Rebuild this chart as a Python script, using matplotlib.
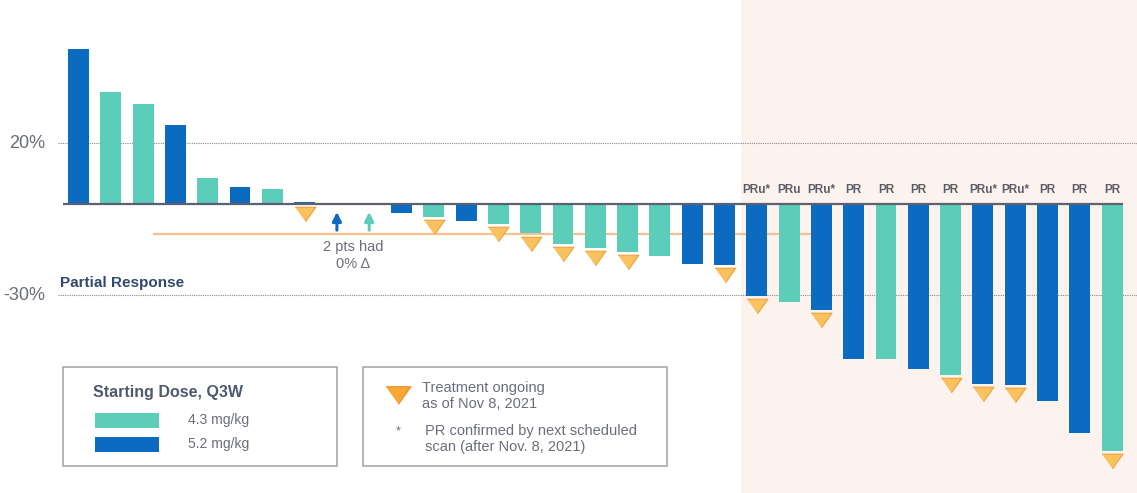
import matplotlib.pyplot as plt
from matplotlib.patches import Rectangle

plt.rcParams['font.family'] = ['Liberation Sans', 'DejaVu Sans']

W, H = 1137, 493

BLUE = '#0a6bc0'
TEAL = '#5ccdb9'
TRI_FILL = '#f9c25e'
TRI_EDGE = '#eea23c'
TEXT_GRAY = '#6a6e7a'
NAVY = '#2f4a6e'
PEACH = '#fdf3ee'

# best % change from baseline, one bar per patient
change = [51, 37, 33, 26, 8.6, 5.7, 4.9, 0.7, 0, 0, -3, -4.2, -5.5, -6.7,
          -9.7, -13.3, -14.6, -15.9, -17.1, -19.9, -20, -30.4, -32.4, -35,
          -51.1, -51.1, -54.2, -56.2, -59.1, -59.5, -64.8, -75.3, -81.1]
dose = ['5.2', '4.3', '4.3', '5.2', '4.3', '5.2', '4.3', '5.2', '5.2', '4.3',
        '5.2', '4.3', '5.2', '4.3', '4.3', '4.3', '4.3', '4.3', '4.3', '5.2',
        '5.2', '5.2', '4.3', '5.2', '5.2', '4.3', '5.2', '4.3', '5.2', '5.2',
        '5.2', '5.2', '4.3']
ongoing = [7, 11, 13, 14, 15, 16, 17, 20, 21, 23, 27, 28, 29, 32]
response = ['PRu*', 'PRu', 'PRu*', 'PR', 'PR', 'PR', 'PR', 'PRu*', 'PRu*',
            'PR', 'PR', 'PR']
first_resp = 21
zero_pts = [8, 9]
dose_colors = {'4.3': TEAL, '5.2': BLUE}

# pixel layout of the bar grid
X0, DX = 78.5, 32.3
Y0, DY = 204, 3.04

fig = plt.figure(figsize=(W / 100, H / 100), dpi=100)
ax = fig.add_axes([0, 0, 1, 1])
ax.set_xlim(-X0 / DX, (W - X0) / DX)
ax.set_ylim(-(H - Y0) / DY, Y0 / DY)
ax.axis('off')


def px(x):
    return (x - X0) / DX


def fx(x, y):
    return x / W, 1 - y / H


# responders region
ax.axvspan(first_resp - 0.5, ax.get_xlim()[1], color=PEACH, zorder=0, lw=0)

# reference lines
for lvl in (20, -30):
    ax.hlines(lvl, px(58), ax.get_xlim()[1], colors='#8a8a8a',
              linestyles=(0, (1, 1)), lw=0.8, zorder=1)
ax.text(px(45), 20, '20%', ha='right', va='center', fontsize=13,
        color=TEXT_GRAY)
ax.text(px(45), -30, '-30%', ha='right', va='center', fontsize=13,
        color=TEXT_GRAY)
ax.annotate('Partial Response', xy=(px(60), -30), xytext=(0, 4),
            textcoords='offset points', ha='left', va='bottom', fontsize=11,
            fontweight='bold', color=NAVY)

ax.hlines(-10, px(153), px(815), colors='#f7c08c', lw=1.6, zorder=2)

xs = list(range(len(change)))
ax.bar(xs, change, width=0.65, color=[dose_colors[d] for d in dose],
       zorder=3)
ax.hlines(0, px(63), px(1123), colors='#5d6070', lw=1.6, zorder=4)

tri = [(-1, 0.7), (1, 0.7), (0, -0.7)]
for i in ongoing:
    ax.plot(i, min(change[i], 0) - 3.3, marker=tri, ms=15, color=TRI_FILL,
            mec=TRI_EDGE, mew=0.8, zorder=5)

for k, lab in enumerate(response):
    ax.annotate(lab, xy=(first_resp + k, 0), xytext=(0, 6),
                textcoords='offset points', ha='center', va='bottom',
                fontsize=8.5, fontweight='bold', color='#5c5f6a')

# patients with no change
for i in zero_pts:
    ax.annotate('', xy=(i, -2.6), xytext=(i, -8.6),
                arrowprops=dict(arrowstyle='-|>', color=dose_colors[dose[i]],
                                lw=2.2, mutation_scale=13, shrinkA=0,
                                shrinkB=0))
ax.text(sum(zero_pts) / 2, -11.9, '2 pts had\n0% Δ', ha='center', va='top',
        fontsize=10.5, color=TEXT_GRAY, linespacing=1.3)

# legend boxes
for x1, x2 in ((63, 337), (363, 667)):
    fig.patches.append(Rectangle(fx(x1, 466), (x2 - x1) / W, 99 / H,
                                 transform=fig.transFigure, fill=False,
                                 ec='#a8a8a8', lw=1.2, zorder=6))

fig.text(*fx(93, 393), 'Starting Dose, Q3W', ha='left', va='center',
         fontsize=11.5, fontweight='bold', color='#4d5a6e')
for y, d in ((420, '4.3'), (444, '5.2')):
    fig.patches.append(Rectangle(fx(95, y + 8), 64 / W, 15 / H,
                                 transform=fig.transFigure,
                                 color=dose_colors[d], lw=0))
    fig.text(*fx(188, y), f'{d} mg/kg', ha='left', va='center',
             fontsize=10, color=TEXT_GRAY)

ax_leg = fig.add_axes([0, 0, 1, 1], facecolor='none')
ax_leg.set_xlim(0, W)
ax_leg.set_ylim(H, 0)
ax_leg.axis('off')
ax_leg.plot(398, 395, marker=tri, ms=18, color='#f7a733', mec='#ee8a22',
            mew=0.8)
fig.text(*fx(422, 396), 'Treatment ongoing\nas of Nov 8, 2021', ha='left',
         va='center', fontsize=10.5, color=TEXT_GRAY, linespacing=1.25)
fig.text(*fx(398, 431), '*', ha='center', va='center', fontsize=9,
         color=TEXT_GRAY)
fig.text(*fx(425, 439),
         'PR confirmed by next scheduled\nscan (after Nov. 8, 2021)',
         ha='left', va='center', fontsize=10.5, color=TEXT_GRAY,
         linespacing=1.2)

fig.savefig('out.png', dpi=100, facecolor='white')
